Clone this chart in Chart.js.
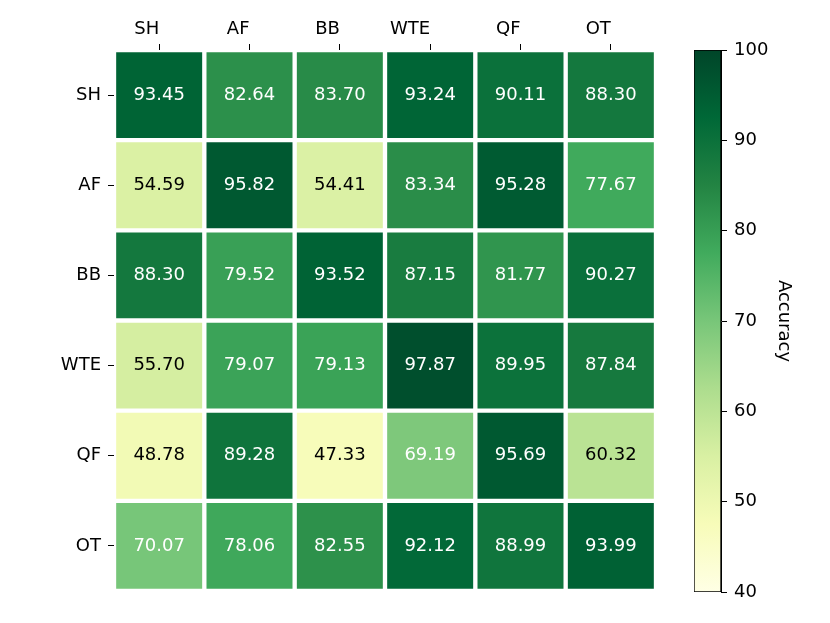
<!DOCTYPE html>
<html>
<head>
<meta charset="utf-8">
<script src="https://cdn.jsdelivr.net/npm/chart.js@4/dist/chart.umd.min.js"></script>
<style>
  body { margin: 0; background: #fff; }
  #wrap { position: relative; width: 830px; height: 623px; }
  #wrap canvas { position: absolute; left: 0; top: 0; }
</style>
</head>
<body>
<div id="wrap">
  <canvas id="heatmap" width="830" height="623"></canvas>
  <canvas id="colorbar" width="830" height="623"></canvas>
</div>
<script>
// categories (rows = tested on, columns = trained on)
const rowLabels = ['SH', 'AF', 'BB', 'WTE', 'QF', 'OT'];
const colLabels = ['SH', 'AF', 'BB', 'WTE', 'QF', 'OT'];

// accuracy per row
const accSH  = [93.45, 82.64, 83.70, 93.24, 90.11, 88.30];
const accAF  = [54.59, 95.82, 54.41, 83.34, 95.28, 77.67];
const accBB  = [88.30, 79.52, 93.52, 87.15, 81.77, 90.27];
const accWTE = [55.70, 79.07, 79.13, 97.87, 89.95, 87.84];
const accQF  = [48.78, 89.28, 47.33, 69.19, 95.69, 60.32];
const accOT  = [70.07, 78.06, 82.55, 92.12, 88.99, 93.99];
const rows = [accSH, accAF, accBB, accWTE, accQF, accOT];

// colour scale range and colorbar ticks
const vMin = 40;
const vMax = 100;
const cbTicks = [40, 50, 60, 70, 80, 90, 100];

// matplotlib YlGn
const ylgn = ['#ffffe5', '#f7fcb9', '#d9f0a3', '#addd8e', '#78c679',
              '#41ab5d', '#238443', '#006837', '#004529'];

function hexToRgb(h) {
  return [1, 3, 5].map(i => parseInt(h.substr(i, 2), 16));
}

function colorFor(v) {
  let t = (v - vMin) / (vMax - vMin);
  t = Math.max(0, Math.min(1, t));
  const pos = t * (ylgn.length - 1);
  const i = Math.min(Math.floor(pos), ylgn.length - 2);
  const f = pos - i;
  const a = hexToRgb(ylgn[i]);
  const b = hexToRgb(ylgn[i + 1]);
  const c = a.map((x, k) => Math.round(x + (b[k] - x) * f));
  return `rgb(${c[0]}, ${c[1]}, ${c[2]})`;
}

const FONT = { family: 'DejaVu Sans', size: 18 };

// one floating-bar dataset per row, spanning [r - 0.5, r + 0.5]
const datasets = rows.map((vals, r) => ({
  label: rowLabels[r],
  data: vals.map(() => [r - 0.5, r + 0.5]),
  acc: vals,
  backgroundColor: vals.map(colorFor),
  borderColor: '#ffffff',
  borderWidth: 2.5,
  borderSkipped: false,
  grouped: false,
  barPercentage: 1,
  categoryPercentage: 1,
}));

// write the value in every cell
const cellText = {
  id: 'cellText',
  afterDatasetsDraw(chart) {
    const ctx = chart.ctx;
    ctx.save();
    ctx.font = `${FONT.size}px ${FONT.family}`;
    ctx.textAlign = 'center';
    ctx.textBaseline = 'middle';
    chart.data.datasets.forEach((ds, di) => {
      chart.getDatasetMeta(di).data.forEach((bar, i) => {
        const v = ds.acc[i];
        const c = bar.getCenterPoint();
        ctx.fillStyle = v < 65 ? '#000000' : '#ffffff';
        ctx.fillText(v.toFixed(2), c.x, c.y);
      });
    });
    ctx.restore();
  }
};

new Chart(document.getElementById('heatmap').getContext('2d'), {
  type: 'bar',
  data: { labels: colLabels, datasets: datasets },
  options: {
    responsive: false,
    devicePixelRatio: 1,
    animation: false,
    layout: { padding: { left: 0, right: 174, top: 0, bottom: 32 } },
    plugins: { legend: { display: false }, tooltip: { enabled: false } },
    scales: {
      x: {
        type: 'category',
        position: 'top',
        offset: true,
        grid: { offset: false, drawOnChartArea: false, tickLength: 6, color: '#000', lineWidth: 1 },
        border: { display: false },
        // labels sit right-aligned on their tick, like ha="right"
        ticks: { color: '#000', font: FONT, padding: 4, maxRotation: 0, align: 'end' },
        afterFit(s) { s.height = 50; }
      },
      y: {
        type: 'linear',
        min: -0.5,
        max: 5.5,
        reverse: true,
        grid: { drawOnChartArea: false, tickLength: 6, color: '#000', lineWidth: 1 },
        border: { display: false },
        ticks: { color: '#000', font: FONT, padding: 7, callback: v => rowLabels[v] },
        afterBuildTicks(s) { s.ticks = rowLabels.map((_, i) => ({ value: i })); },
        afterFit(s) { s.width = 114; }
      }
    }
  },
  plugins: [cellText]
});

// colorbar: one floating bar from vMin to vMax filled with the colormap
new Chart(document.getElementById('colorbar').getContext('2d'), {
  type: 'bar',
  data: {
    labels: ['Accuracy'],
    datasets: [{
      data: [[vMin, vMax]],
      backgroundColor(context) {
        const area = context.chart.chartArea;
        if (!area) return ylgn[0];
        const g = context.chart.ctx.createLinearGradient(0, area.bottom, 0, area.top);
        ylgn.forEach((c, i) => g.addColorStop(i / (ylgn.length - 1), c));
        return g;
      },
      borderColor: '#000',
      borderWidth: 1,
      borderSkipped: false,
      barPercentage: 1,
      categoryPercentage: 1,
    }]
  },
  options: {
    responsive: false,
    devicePixelRatio: 1,
    animation: false,
    layout: { padding: { left: 694, right: 0, top: 50, bottom: 31 } },
    plugins: { legend: { display: false }, tooltip: { enabled: false } },
    scales: {
      x: { display: false },
      y: {
        position: 'right',
        min: vMin,
        max: vMax,
        grid: { drawOnChartArea: false, tickLength: 6, color: '#000', lineWidth: 1 },
        border: { display: true, color: '#000', width: 1 },
        ticks: { color: '#000', font: FONT, padding: 7 },
        afterBuildTicks(s) { s.ticks = cbTicks.map(v => ({ value: v })); },
        title: { display: true, text: 'Accuracy', color: '#000', font: FONT, padding: { top: 36, bottom: 0 } },
        afterFit(s) { s.width = 109; }
      }
    }
  }
});
</script>
</body>
</html>
